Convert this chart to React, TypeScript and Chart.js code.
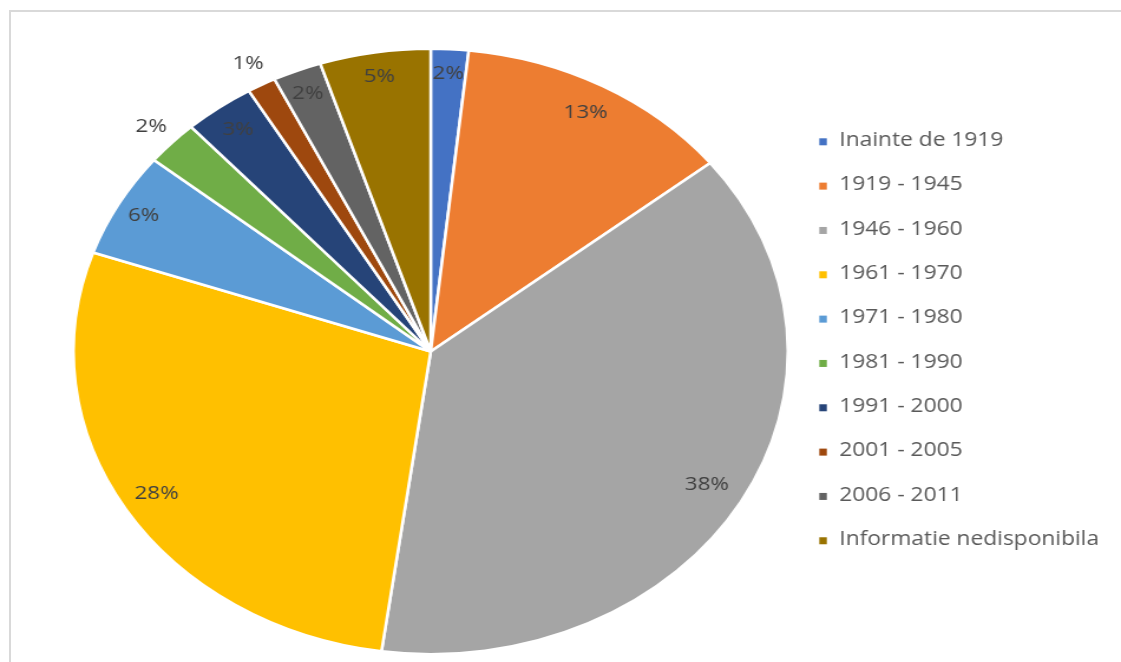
import React, { useEffect, useRef } from "react";
import { Chart, registerables } from "chart.js";

Chart.register(...registerables);

const categories = [
  "Inainte de 1919",
  "1919 - 1945",
  "1946 - 1960",
  "1961 - 1970",
  "1971 - 1980",
  "1981 - 1990",
  "1991 - 2000",
  "2001 - 2005",
  "2006 - 2011",
  "Informatie nedisponibila",
];
// shares (%)
const shares = [1.7, 12.6, 37.9, 28.1, 5.6, 2.4, 3.2, 1.3, 2.2, 5.0];
const colors = [
  "#4472C4",
  "#ED7D31",
  "#A5A5A5",
  "#FFC000",
  "#5B9BD5",
  "#70AD47",
  "#264478",
  "#9E480E",
  "#636363",
  "#997300",
];
// radial position of each data label, as a fraction of the pie radius
const labelRadius = [0.92, 0.9, 0.89, 0.9, 0.92, 1.08, 0.91, 1.08, 0.92, 0.92];

const W = 950;
const H = 662;
const SCALE_X = 1121 / W;
const FONT = "'Open Sans', Lato, sans-serif";

const dataLabelPlugin = {
  id: "dataLabels",
  afterDatasetsDraw(chart: any) {
    const ctx = chart.ctx;
    const meta = chart.getDatasetMeta(0);
    const data = chart.data.datasets[0].data as number[];
    const total = data.reduce((a, b) => a + b, 0);
    ctx.save();
    ctx.font = `19px ${FONT}`;
    ctx.fillStyle = "#404040";
    ctx.textAlign = "center";
    ctx.textBaseline = "middle";
    meta.data.forEach((arc: any, i: number) => {
      const { x, y, startAngle, endAngle, outerRadius } = arc.getProps(
        ["x", "y", "startAngle", "endAngle", "outerRadius"],
        true
      );
      const mid = (startAngle + endAngle) / 2;
      const r = outerRadius * labelRadius[i];
      const pct = Math.round((data[i] / total) * 100) + "%";
      ctx.fillText(pct, x + Math.cos(mid) * r, y + Math.sin(mid) * r);
    });
    ctx.restore();
  },
};

const legendPlugin = {
  id: "customLegend",
  afterDraw(chart: any) {
    const ctx = chart.ctx;
    const labels = chart.data.labels as string[];
    const bg = chart.data.datasets[0].backgroundColor as string[];
    const x0 = 694.3;
    const textX = 711.3;
    const firstBaseline = 146;
    const step = 44.33;
    ctx.save();
    ctx.font = `19.3px ${FONT}`;
    ctx.textAlign = "left";
    ctx.textBaseline = "alphabetic";
    labels.forEach((lab, i) => {
      const base = firstBaseline + i * step;
      ctx.fillStyle = bg[i];
      ctx.fillRect(x0, base - 7.7, 6.4, 7);
      ctx.fillStyle = "#595959";
      ctx.fillText(lab, textX, base);
    });
    ctx.restore();
  },
};

export default function App() {
  const ref = useRef<HTMLCanvasElement>(null);

  useEffect(() => {
    if (!ref.current) return;
    const chart = new Chart(ref.current, {
      type: "pie",
      data: {
        labels: categories,
        datasets: [
          {
            data: shares,
            backgroundColor: colors,
            borderColor: "#ffffff",
            borderWidth: 2.5,
          },
        ],
      },
      options: {
        responsive: true,
        maintainAspectRatio: false,
        animation: false,
        layout: { padding: { left: 61, right: 281, top: 47, bottom: 6 } },
        plugins: {
          legend: { display: false },
          tooltip: { enabled: false },
        },
      },
      plugins: [dataLabelPlugin, legendPlugin],
    } as any);
    return () => chart.destroy();
  }, []);

  return (
    <>
      <div
        style={{
          position: "absolute",
          left: 9,
          top: 10,
          width: 1112,
          height: 652,
          borderTop: "2px solid #d9d9d9",
          borderLeft: "2px solid #d9d9d9",
          boxSizing: "border-box",
        }}
      />
      <div
        style={{
          position: "absolute",
          left: 0,
          top: 0,
          width: W,
          height: H,
          transform: `scaleX(${SCALE_X})`,
          transformOrigin: "0 0",
        }}
      >
        <canvas ref={ref} />
      </div>
    </>
  );
}
